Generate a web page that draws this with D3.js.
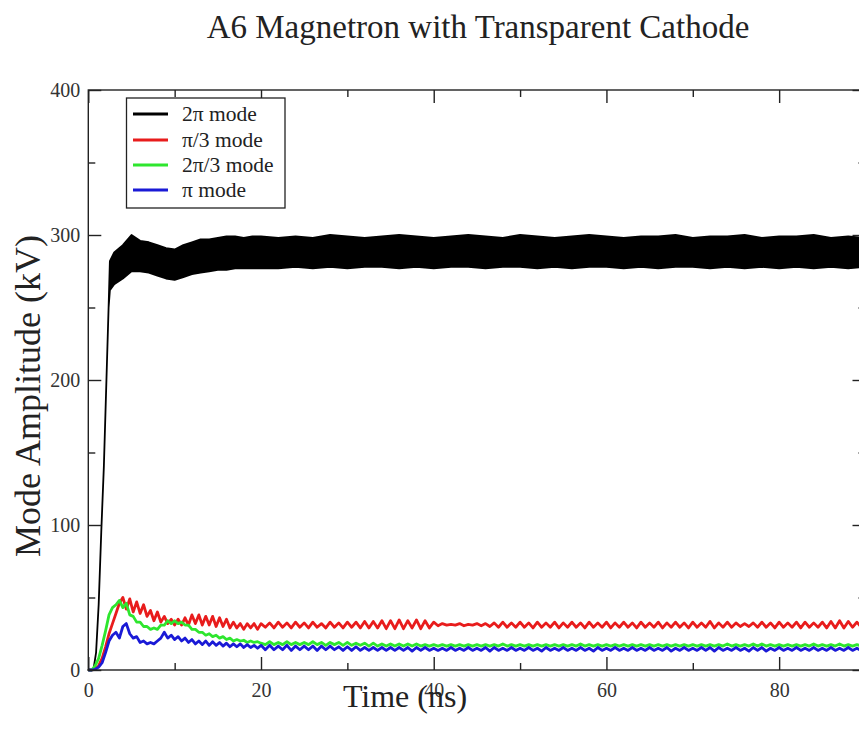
<!DOCTYPE html>
<html>
<head>
<meta charset="utf-8">
<script src="https://cdn.jsdelivr.net/npm/d3@7"></script>
<style>
  html, body { margin: 0; padding: 0; background: #fff; }
  svg { display: block; }
  text { font-family: "Liberation Serif", "DejaVu Serif", serif; }
</style>
</head>
<body>
<svg id="chart" width="859" height="736"></svg>
<script>
// ---------------- data ----------------
const titleText = "A6 Magnetron with Transparent Cathode";
const xLabel = "Time (ns)";
const yLabel = "Mode Amplitude (kV)";
const xMajorTicks = [0, 20, 40, 60, 80];
const xMinorTicks = [10, 30, 50, 70, 90];
const yMajorTicks = [0, 100, 200, 300, 400];
const yMinorTicks = [50, 150, 250, 350];
const seriesNames = ["2\u03c0 mode", "\u03c0/3 mode", "2\u03c0/3 mode", "\u03c0 mode"];
const seriesColors = ["#000000", "#e81c1c", "#2ee62e", "#1a1ad6"];

// sample times (ns) for the three small modes
const earlyTimes = d3.range(0, 20.001, 0.4);      // 51 samples
const lateTimes = d3.range(20.5, 90.001, 0.5);    // 140 samples

// pi/3 mode (kV)
const redEarly = [0, 0, 0.5, 3, 8, 16, 25, 32, 39, 46,
  50, 42, 49, 40, 47, 39, 45, 37, 41, 34,
  40, 33, 37, 32, 35, 31, 35, 31, 36, 31,
  38, 32, 38, 31, 37, 31, 37, 30, 36, 30,
  35, 29, 33, 29, 32, 28, 32, 29, 32, 28, 32];
const redLate = [
  29.5, 32.5, 29, 33, 29.5, 32.5, 29, 33, 29.5, 32.5,
  29, 33, 29.5, 32, 29, 33, 29.5, 32.5, 29, 33,
  29.5, 33, 29, 33.5, 29, 33.5, 29, 34, 28.5, 34,
  28.5, 34.5, 28.5, 34, 29, 34.5, 28.5, 34, 29, 33,
  30.5, 32, 31, 31.5, 31, 32, 30.5, 31.5, 31, 32,
  30.5, 32, 30, 32.5, 29.5, 33, 29.5, 32.5, 29.5, 33,
  29.5, 32.5, 29, 33, 29.5, 32.5, 29.5, 33, 29, 32.5,
  29.5, 33, 29.5, 32.5, 29, 33, 29.5, 32.5, 29.5, 33,
  29, 32.5, 29.5, 33, 29.5, 32.5, 29, 33, 29.5, 32.5,
  29.5, 33, 29, 32.5, 29.5, 33, 29.5, 32.5, 29, 33,
  29.5, 32.5, 29.5, 33.5, 29, 32.5, 29.5, 33, 29.5, 32.5,
  30, 32, 30, 32.5, 29.5, 33, 29.5, 32.5, 29, 33,
  29.5, 32.5, 29.5, 33, 29, 33, 29.5, 32.5, 29.5, 33,
  29, 33.5, 29, 34, 29, 33.5, 29.5, 33, 29.5, 33];

// 2pi/3 mode (kV)
const greenEarly = [0, 0, 3, 8, 17, 27, 38, 43, 45, 48,
  43, 46, 38, 37, 33, 33, 30, 30, 28, 29,
  28, 31, 31, 34, 32, 34, 32, 33, 31, 31,
  28, 28, 26, 26, 24, 25, 23, 24, 22, 23,
  21, 22, 20, 21, 20, 20.5, 19, 20, 19, 19.5, 18.5];
const greenLate = [
  17.5, 19.5, 17.5, 19, 17.5, 19.5, 17.5, 19, 17.5, 19,
  17.5, 19.5, 17.5, 19, 17, 19, 17.5, 19, 17, 19,
  17, 18.5, 17, 18.5, 16.5, 18.5, 16.5, 18, 16.5, 18,
  16.5, 18, 16.5, 18, 16.5, 18, 16.5, 17.5, 16.5, 17.5,
  16.5, 17.5, 16.5, 17.5, 16.5, 17.5, 16.5, 17.5, 16.5, 17.5,
  16.5, 17.5, 16.5, 17.5, 16.5, 18, 16.5, 17.5, 16.5, 17.5,
  16.5, 17.5, 16.5, 17.5, 16.5, 17.5, 16.5, 17.5, 16.5, 17.5,
  16.5, 17.5, 16.5, 18, 16.5, 17.5, 16.5, 17.5, 16.5, 17.5,
  16.5, 17.5, 16.5, 17.5, 16.5, 17.5, 16.5, 17.5, 16.5, 17.5,
  16.5, 17.5, 16.5, 17.5, 16.5, 17.5, 16.5, 17.5, 16.5, 17.5,
  16.5, 17.5, 16.5, 17.5, 16.5, 17.5, 16.5, 18, 16.5, 17.5,
  16.5, 17.5, 16.5, 18, 16.5, 18, 16.5, 17.5, 16.5, 17.5,
  16.5, 17.5, 16.5, 17.5, 16.5, 17.5, 16.5, 18, 16.5, 17.5,
  16.5, 17.5, 16.5, 18, 16.5, 17.5, 16.5, 17.5, 16.5, 17.5];

// pi mode (kV)
const blueEarly = [0, 0, 0.5, 2, 5, 12, 20, 24, 26, 22,
  30, 32, 25, 22, 23, 19, 20, 18, 19, 18,
  20, 22, 26, 22, 24, 21, 23, 20, 22, 19,
  21, 18, 20, 17.5, 20, 17, 19.5, 17, 19, 16.5,
  18.5, 16, 18, 16, 18, 15.5, 17.5, 15.5, 17, 15, 17];
const blueLate = [
  14, 17, 14, 16.5, 14, 17, 13.5, 16.5, 14, 16.5,
  14, 16.5, 13.5, 16.5, 14, 16.5, 14, 16, 13.5, 16,
  13.5, 16, 13.5, 15.5, 13.5, 15.5, 13.5, 15.5, 13.5, 15.5,
  13.5, 15.5, 13.5, 15.5, 13, 15.5, 13.5, 15.5, 13.5, 15,
  13.5, 15, 13.5, 15.5, 13.5, 15, 13.5, 15.5, 13.5, 15,
  13.5, 15.5, 13, 15.5, 13.5, 15, 13.5, 15.5, 13.5, 15,
  13.5, 15.5, 13.5, 15, 13, 15.5, 13.5, 15, 13.5, 15.5,
  13.5, 15, 13.5, 15.5, 13.5, 15, 13, 15.5, 13.5, 15,
  13.5, 15.5, 13.5, 15, 13.5, 15.5, 13.5, 15, 13.5, 15.5,
  13.5, 15, 13.5, 15.5, 13, 15, 13.5, 15.5, 13.5, 15,
  13.5, 15.5, 13.5, 15.5, 13, 15.5, 13.5, 15, 13.5, 15.5,
  13.5, 15, 13, 15.5, 13.5, 15.5, 13, 15, 13.5, 15.5,
  13.5, 15, 13.5, 15.5, 13.5, 15, 13.5, 15.5, 13.5, 15,
  13.5, 15.5, 13.5, 15, 13.5, 15.5, 13.5, 15, 13.5, 15.5];

// 2pi mode: fast oscillation drawn as its min/max envelope (kV)
const blackTimes = [0, 0.3, 0.6, 0.9, 1.2, 1.5, 1.8, 2.1, 2.35, 2.5,
  3, 4, 5, 6, 7, 8, 9, 10, 11, 12, 13, 14, 15, 16, 17, 18, 19, 20,
  22, 24, 26, 28, 30, 32, 34, 36, 38, 40, 42, 44, 46, 48, 50,
  52, 54, 56, 58, 60, 62, 64, 66, 68, 70, 72, 74, 76, 78, 80,
  82, 84, 86, 88, 90];
const blackHi = [0, 0, 0.5, 12, 45, 95, 140, 200, 250, 282,
  288, 293, 300, 296, 295, 293, 291, 290, 293, 295, 297, 297, 298, 299, 299, 298, 299, 299,
  298, 299, 298, 300, 299, 298, 299, 300, 299, 298, 299, 300, 299, 298, 300,
  299, 298, 299, 300, 299, 298, 299, 299, 300, 298, 299, 299, 300, 298, 299,
  299, 300, 298, 299, 298];
const blackLo = [0, 0, 0.5, 12, 45, 95, 140, 200, 250, 262,
  266, 270, 275, 275, 274, 272, 270, 269, 271, 273, 274, 275, 276, 276, 277, 277, 277, 277,
  277, 278, 277, 278, 277, 278, 278, 277, 278, 277, 278, 278, 277, 278, 278,
  277, 278, 277, 278, 278, 277, 278, 277, 278, 278, 277, 278, 277, 278, 277,
  278, 277, 278, 277, 278];

// ---------------- chart ----------------
const svg = d3.select("#chart");
svg.append("rect").attr("width", 859).attr("height", 736).attr("fill", "#fff");

const x = d3.scaleLinear().domain([0, 90]).range([88.3, 865.5]);
const y = d3.scaleLinear().domain([0, 400]).range([670, 90]);

const plot = svg.append("g");

// black band
const blackData = blackTimes.map((t, i) => ({t, lo: blackLo[i], hi: blackHi[i]}));
plot.append("path")
  .datum(blackData)
  .attr("d", d3.area().x(d => x(d.t)).y0(d => y(d.lo)).y1(d => y(d.hi)))
  .attr("fill", seriesColors[0])
  .attr("stroke", seriesColors[0])
  .attr("stroke-width", 1.8)
  .attr("stroke-linejoin", "round");

const line = d3.line().x(d => x(d.t)).y(d => y(d.v));
function seriesData(early, late) {
  return earlyTimes.map((t, i) => ({t, v: early[i]}))
    .concat(lateTimes.map((t, i) => ({t, v: late[i]})));
}
const colored = [
  [redEarly, redLate, seriesColors[1]],
  [greenEarly, greenLate, seriesColors[2]],
  [blueEarly, blueLate, seriesColors[3]]
];
colored.forEach(([e, l, c]) => {
  plot.append("path")
    .datum(seriesData(e, l))
    .attr("d", line)
    .attr("fill", "none")
    .attr("stroke", c)
    .attr("stroke-width", 2.8)
    .attr("stroke-linejoin", "round");
});

// frame
const frameColor = "#222";
svg.append("rect")
  .attr("x", x(0)).attr("y", y(400))
  .attr("width", x(90) - x(0)).attr("height", y(0) - y(400))
  .attr("fill", "none").attr("stroke", frameColor).attr("stroke-width", 1.4);

function styleAxis(g) {
  g.select(".domain").remove();
  g.selectAll(".tick line").attr("stroke", frameColor).attr("stroke-width", 1.4);
  g.selectAll("text")
    .attr("font-family", "Liberation Serif, serif")
    .attr("font-size", 20)
    .attr("fill", "#333");
}
const MAJ = 13, MIN = 7;
svg.append("g").attr("transform", `translate(0,${y(0)})`)
  .call(d3.axisBottom(x).tickValues(xMajorTicks).tickSizeInner(-MAJ).tickSizeOuter(0).tickPadding(13).tickFormat(d3.format("d")))
  .call(styleAxis);
svg.append("g").attr("transform", `translate(0,${y(0)})`)
  .call(d3.axisBottom(x).tickValues(xMinorTicks).tickSizeInner(-MIN).tickSizeOuter(0).tickFormat(""))
  .call(styleAxis);
svg.append("g").attr("transform", `translate(0,${y(400)})`)
  .call(d3.axisTop(x).tickValues(xMajorTicks).tickSizeInner(-MAJ).tickSizeOuter(0).tickFormat(""))
  .call(styleAxis);
svg.append("g").attr("transform", `translate(0,${y(400)})`)
  .call(d3.axisTop(x).tickValues(xMinorTicks).tickSizeInner(-MIN).tickSizeOuter(0).tickFormat(""))
  .call(styleAxis);
svg.append("g").attr("transform", `translate(${x(0)},0)`)
  .call(d3.axisLeft(y).tickValues(yMajorTicks).tickSizeInner(-MAJ).tickSizeOuter(0).tickPadding(8).tickFormat(d3.format("d")))
  .call(styleAxis);
svg.append("g").attr("transform", `translate(${x(0)},0)`)
  .call(d3.axisLeft(y).tickValues(yMinorTicks).tickSizeInner(-MIN).tickSizeOuter(0).tickFormat(""))
  .call(styleAxis);
svg.append("g").attr("transform", `translate(${x(90)},0)`)
  .call(d3.axisRight(y).tickValues(yMajorTicks).tickSizeInner(-MAJ).tickSizeOuter(0).tickFormat(""))
  .call(styleAxis);
svg.append("g").attr("transform", `translate(${x(90)},0)`)
  .call(d3.axisRight(y).tickValues(yMinorTicks).tickSizeInner(-MIN).tickSizeOuter(0).tickFormat(""))
  .call(styleAxis);

// titles
svg.append("text").attr("x", 478).attr("y", 38)
  .attr("text-anchor", "middle").attr("font-size", 33).attr("fill", "#222")
  .text(titleText);
svg.append("text").attr("x", 405).attr("y", 707)
  .attr("text-anchor", "middle").attr("font-size", 32).attr("fill", "#222")
  .text(xLabel);
svg.append("text")
  .attr("transform", "translate(40,396) rotate(-90)")
  .attr("text-anchor", "middle").attr("font-size", 36).attr("fill", "#222")
  .text(yLabel);

// legend
const leg = svg.append("g");
leg.append("rect").attr("x", 126.5).attr("y", 98).attr("width", 158.5).attr("height", 110)
  .attr("fill", "#fff").attr("stroke", frameColor).attr("stroke-width", 1.3);
const rowY = [114, 140, 165, 190];
seriesNames.forEach((name, i) => {
  leg.append("line").attr("x1", 133).attr("x2", 168).attr("y1", rowY[i]).attr("y2", rowY[i])
    .attr("stroke", seriesColors[i]).attr("stroke-width", 2.8);
  leg.append("text").attr("x", 182).attr("y", rowY[i] + 7)
    .attr("font-size", 21.5).attr("fill", "#222").text(name);
});
</script>
</body>
</html>
